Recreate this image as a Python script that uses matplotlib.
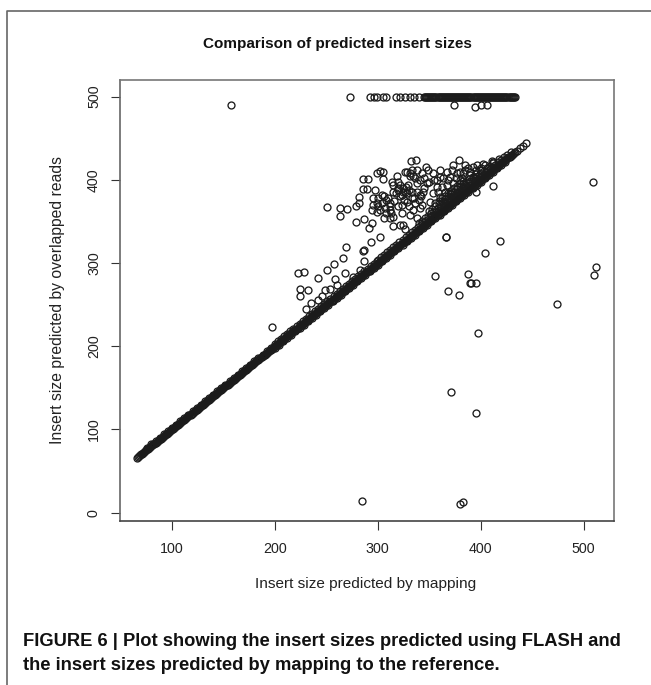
import matplotlib
matplotlib.use('Agg')
import matplotlib.pyplot as plt
from matplotlib.lines import Line2D

plt.rcParams['font.family'] = ['Liberation Sans', 'DejaVu Sans']

# main diagonal, both predictions agree so x and y are the same sizes
diag_x = [66, 67, 68, 69, 70, 71, 72, 73, 74, 75, 76, 77, 78, 79, 80, 81, 82, 83, 84, 85, 86, 87, 88, 89, 90, 91, 92, 93, 94, 95, 96, 97, 98, 99,
          100, 101, 102, 103, 104, 105, 106, 107, 108, 109, 110, 111, 112, 113, 114, 115, 116, 117, 118, 119, 120, 121, 122, 123, 124, 125, 126, 127, 128, 129,
          130, 131, 132, 133, 134, 135, 136, 137, 138, 139, 140, 141, 142, 143, 144, 145, 146, 147, 148, 149, 150, 151, 152, 153, 154, 155, 156, 157, 158, 159,
          160, 161, 162, 163, 164, 165, 166, 167, 168, 169, 170, 171, 172, 173, 174, 175, 176, 177, 178, 179, 180, 181, 182, 183, 184, 185, 186, 187, 188, 189,
          190, 191, 192, 193, 194, 195, 196, 197, 198, 199, 200, 201, 202, 203, 204, 205, 206, 207, 208, 209, 210, 211, 212, 213, 214, 215, 216, 217, 218, 219,
          220, 221, 222, 223, 224, 225, 226, 227, 228, 229, 230, 231, 232, 233, 234, 235, 236, 237, 238, 239, 240, 241, 242, 243, 244, 245, 246, 247, 248, 249,
          250, 251, 252, 253, 254, 255, 256, 257, 258, 259, 260, 261, 262, 263, 264, 265, 266, 267, 268, 269, 270, 271, 272, 273, 274, 275, 276, 277, 278, 279,
          280, 281, 282, 283, 284, 285, 286, 287, 288, 289, 290, 291, 292, 293, 294, 295, 296, 297, 298, 299, 300, 301, 302, 303, 304, 305, 306, 307, 308, 309,
          310, 311, 312, 313, 314, 315, 316, 317, 318, 319, 320, 321, 322, 323, 324, 325, 326, 327, 328, 329, 330, 331, 332, 333, 334, 335, 336, 337, 338, 339,
          340, 341, 342, 343, 344, 345, 346, 347, 348, 349, 350, 351, 352, 353, 354, 355, 356, 357, 358, 359, 360, 361, 362, 363, 364, 365, 366, 367, 368, 369,
          370, 371, 372, 373, 374, 375, 376, 377, 378, 379, 380, 381, 382, 383, 384, 385, 386, 387, 388, 389, 390, 391, 392, 393, 394, 395, 396, 397, 398, 399,
          400, 401, 402, 403, 404, 405, 406, 407, 408, 409, 410, 411, 412, 413, 414, 415, 416, 417, 418, 419, 420, 421, 422, 423, 424, 425, 426, 427, 428, 429,
          430, 431, 432, 433, 435, 438, 441, 444]
diag_y = diag_x

# thick black part of the band, points a little off the diagonal
band_x = [76, 80, 84, 88, 92, 96, 100, 104, 108, 112, 116, 120, 124, 128, 132, 136, 140, 144, 148, 152, 156, 160, 164, 168, 172, 176, 180, 184, 188, 192, 196,
          200, 203, 206, 209, 212, 215, 218, 221, 224, 227, 230, 233, 236, 239, 242, 245, 248, 251, 254, 257, 260, 263, 266, 269, 272, 275, 278, 281, 284, 287, 290, 293, 296, 299,
          200, 204, 208, 212, 216, 220, 224, 228, 232, 236, 240, 244, 248, 252, 256, 260, 264, 268, 272, 276, 280, 284, 288, 292, 296, 300, 304, 308, 312, 316, 320, 324, 328, 332, 336, 340, 344, 348, 352, 356, 360, 364, 368, 372, 376, 380, 384, 388, 392, 396, 400, 404, 408, 412, 416, 420, 424,
          300, 303, 306, 309, 312, 315, 318, 321, 324, 327, 330, 333, 336, 339, 342, 345, 348, 351, 354, 357, 360, 363, 366, 369, 372, 375, 378, 381, 384, 387, 390, 393, 396, 399, 402, 405, 408, 411, 414, 417, 420, 423, 426, 429,
          340, 343, 346, 349, 352, 355, 358, 361, 364, 367, 370, 373, 376, 379, 382, 385, 388, 391, 394, 397, 400, 403, 406, 409, 412,
          350, 353, 356, 359, 362, 365, 368, 371, 374, 377, 380, 383, 386, 389, 392, 395,
          356, 359, 362, 365, 368, 371, 374, 377, 380, 383]
band_y = [78, 82, 86, 90, 94, 98, 102, 106, 110, 114, 118, 122, 126, 130, 134, 138, 142, 146, 150, 154, 158, 162, 166, 170, 174, 178, 182, 186, 190, 194, 198,
          203, 206, 209, 212, 215, 218, 221, 224, 227, 230, 233, 236, 239, 242, 245, 248, 251, 254, 257, 260, 263, 266, 269, 272, 275, 278, 281, 284, 287, 290, 293, 296, 299, 302,
          198, 202, 206, 210, 214, 218, 222, 226, 230, 234, 238, 242, 246, 250, 254, 258, 262, 266, 270, 274, 278, 282, 286, 290, 294, 298, 302, 306, 310, 314, 318, 322, 326, 330, 334, 338, 342, 346, 350, 354, 358, 362, 366, 370, 374, 378, 382, 386, 390, 394, 398, 402, 406, 410, 414, 418, 422,
          304, 307, 310, 313, 316, 319, 322, 325, 328, 331, 334, 337, 340, 343, 346, 349, 352, 355, 358, 361, 364, 367, 370, 373, 376, 379, 382, 385, 388, 391, 394, 397, 400, 403, 406, 409, 412, 415, 418, 421, 424, 427, 430, 433,
          348, 351, 354, 357, 360, 363, 366, 369, 372, 375, 378, 381, 384, 387, 390, 393, 396, 399, 402, 405, 408, 411, 414, 417, 420,
          362, 365, 368, 371, 374, 377, 380, 383, 386, 389, 392, 395, 398, 401, 404, 407,
          372, 375, 378, 381, 384, 387, 390, 393, 396, 399]

# row at 500 (capped values)
top_x = [273, 292, 296, 299, 305, 308, 318, 322, 326, 331, 335, 340,
         345, 346, 347, 348, 349, 350, 351, 352, 353, 354, 355, 356, 357, 358, 359, 360, 361, 362, 363, 364, 365, 366, 367, 368, 369,
         370, 371, 372, 373, 374, 375, 376, 377, 378, 379, 380, 381, 382, 383, 384, 385, 386, 387, 388, 389, 390, 391, 392, 393, 394,
         395, 396, 397, 398, 399, 400, 401, 402, 403, 404, 405, 406, 407, 408, 409, 410, 411, 412, 413, 414, 415, 416, 417, 418, 419,
         420, 421, 422, 423, 424, 425, 426, 427, 428, 429, 430, 431, 432, 433]
top_y = [500] * len(top_x)

# loose points above the diagonal
cloud_x = [250.2, 263.2, 269.7, 263.2, 278.8, 282, 279.1, 286.2, 291.4, 294.3, 285.2, 290.7, 285.9, 289.1, 282,
           298.8, 302.1, 305.3, 305.3, 297.2, 295.6, 298.8, 304.3, 306.9, 306.3, 314.4, 321.5, 324.1, 326.7, 311.8,
           313.4, 318.3, 326.4, 331.9, 337, 331.2, 342.6, 346.4, 349, 353.9, 360.4, 366.9, 373.3, 379.2, 384.7,
           376.6, 392.8, 401.8, 410.6,
           321.5, 324.7, 323.1, 315, 328, 332.8, 340.9, 342.6, 334.5, 323.1, 331.2, 337.7, 311.8, 302.1, 350.7,
           353.9, 360.4, 357.1, 366.9, 373.3, 379.8, 370.1, 363.6, 295.6, 294, 298.8, 310.2, 315, 319.9, 326.4,
           329.6, 337.7, 340.9, 347.4, 332.8, 344.2, 315, 323.1, 340.9, 311.8, 319.9, 331.2, 337.7, 360.4, 357.1,
           370.1, 383.1, 389.5, 399.3, 405.7, 387.9, 363.6,
           222.1, 228.2, 224.7, 231.8, 224.7, 230.2, 234.7, 241.5, 245.4, 248.3, 253.5, 241.8, 250.9, 257, 266.1,
           269, 258, 268, 196.8, 260.6, 285.9, 286.5, 293.3, 302.1, 286.5, 282.6, 276.2,
           320, 324, 327, 318, 322, 328, 330, 334, 328, 333, 336, 338, 342, 345, 340, 336, 300, 304, 308, 306,
           312, 308, 313, 300, 316, 320, 325, 330, 335, 345, 350, 355, 362, 365, 358, 368, 376, 380, 385, 372,
           390, 395, 382, 392, 400, 404, 412, 418, 396]
cloud_y = [367.4, 366.2, 364.6, 356.6, 369, 372.7, 349, 353, 341.8, 348.6, 401.1, 401.1, 388.7, 388.7, 379.9,
           407.9, 410.7, 409.9, 400.7, 387.9, 377.9, 371.9, 381.9, 365.8, 353.8, 344.6, 345.8, 345.8, 340.6, 363.8,
           397.9, 404.7, 409.9, 423.1, 423.9, 407.9, 407.9, 415.9, 411.9, 407.9, 403.9, 409.9, 417.9, 423.9, 417.9,
           407.9, 415.9, 418.7, 423.1,
           393.9, 389.9, 381.9, 385.9, 373.9, 385.9, 381.9, 369.9, 363.8, 359.8, 357.8, 353.8, 371.9, 363.8, 373.9,
           383.9, 379.9, 391.9, 393.9, 395.9, 399.9, 383.9, 373.9, 369.8, 363.8, 361.8, 377.9, 393.9, 387.9, 385.9,
           393.9, 395.9, 399.9, 395.9, 377.9, 385.9, 355.8, 369.9, 365.8, 353.8, 397.9, 404.7, 411.9, 411.9, 399.9,
           403.9, 407.9, 405.9, 411.9, 413.9, 413.9, 401.9,
           288.1, 289.7, 269.3, 267.3, 260.9, 244.5, 252.1, 255.3, 260.5, 267.3, 268.9, 282.1, 292.1, 299.4, 306.2,
           319, 281.3, 288.5, 222.8, 273.7, 314.6, 315.4, 325, 331, 303, 291.7, 283.7,
           390, 386, 392, 384, 380, 384, 388, 405, 410, 412, 402, 386, 380, 390, 376, 372, 378, 372, 376, 380,
           368, 360, 360, 368, 374, 368, 376, 368, 378, 402, 398, 400, 392, 385, 385, 400, 402, 410, 412, 412,
           410, 412, 402, 404, 414, 418, 422, 425, 418]

# outliers away from the band
out_x = [157, 374.3, 394.4, 400.2, 405.7, 509.5, 511.7, 509.8, 418.8, 404.5, 366, 366.6, 411.6, 395, 355.3,
         387.4, 389.3, 390.3, 395.8, 368.6, 378.6, 474.5, 397.4, 371.2, 395.4, 285, 380, 383]
out_y = [490, 490, 488, 490.4, 490.4, 398, 294.9, 285.3, 327, 312.2, 331.8, 331.2, 393.1, 385.1, 284.1,
         286.9, 276.1, 276.1, 276.1, 266.1, 261.3, 250.5, 216.4, 145.1, 120.3, 14.5, 10, 13]

x_ticks = [100, 200, 300, 400, 500]
y_ticks = [0, 100, 200, 300, 400, 500]

W, H = 651, 685
fig = plt.figure(figsize=(W / 100, H / 100), dpi=100)
ax = fig.add_axes([120 / W, 1 - 520.7 / H, 493.5 / W, 440.7 / H])

# overplotted circles read as solid black in the band, so close the small holes
ax.plot(diag_x[5:-6], diag_y[5:-6], color='#0a0a0a', lw=4.2, solid_capstyle='round')
for xs, ys in [(diag_x, diag_y), (band_x, band_y), (top_x, top_y), (cloud_x, cloud_y), (out_x, out_y)]:
    ax.plot(xs, ys, ls='none', marker='o', ms=5, mfc='none', mec='#1c1c1c', mew=0.95)

ax.set_xlim(49.5, 529)
ax.set_ylim(-9.6, 520)
ax.set_xticks(x_ticks)
ax.set_yticks(y_ticks)
ax.tick_params(length=6.7, width=0.8, color='#333333', labelsize=10.3, labelcolor='#222222')
ax.tick_params(axis='x', pad=8.5)
ax.tick_params(axis='y', pad=7)
plt.setp(ax.get_yticklabels(), rotation=90, va='center')
for s in ax.spines.values():
    s.set_color('#777777')
    s.set_linewidth(1.2)
ax.spines['bottom'].set_color('#444444')
ax.spines['left'].set_color('#666666')

fig.text(337 / W, 1 - 44 / H, 'Comparison of predicted insert sizes', fontsize=11, fontweight='bold',
         ha='center', va='center', color='#111111')
fig.text(366 / W, 1 - 584 / H, 'Insert size predicted by mapping', fontsize=11.1,
         ha='center', va='center', color='#222222')
fig.text(57.5 / W, 1 - 300 / H, 'Insert size predicted by overlapped reads', fontsize=11.3, rotation=90,
         ha='center', va='center', color='#222222')

# caption under the plot
fig.text(23 / W, 1 - 641 / H, 'FIGURE 6 | Plot showing the insert sizes predicted using FLASH and',
         fontsize=13.2, fontweight='bold', ha='left', va='center', color='#111111')
fig.text(23 / W, 1 - 665 / H, 'the insert sizes predicted by mapping to the reference.',
         fontsize=13.2, fontweight='bold', ha='left', va='center', color='#111111')

# outer frame, top and left only
fig.add_artist(Line2D([6.7 / W, 6.7 / W, 1], [0, 1 - 10.5 / H, 1 - 10.5 / H], color='#666666', lw=1.2))

fig.savefig('out.png', dpi=100)
